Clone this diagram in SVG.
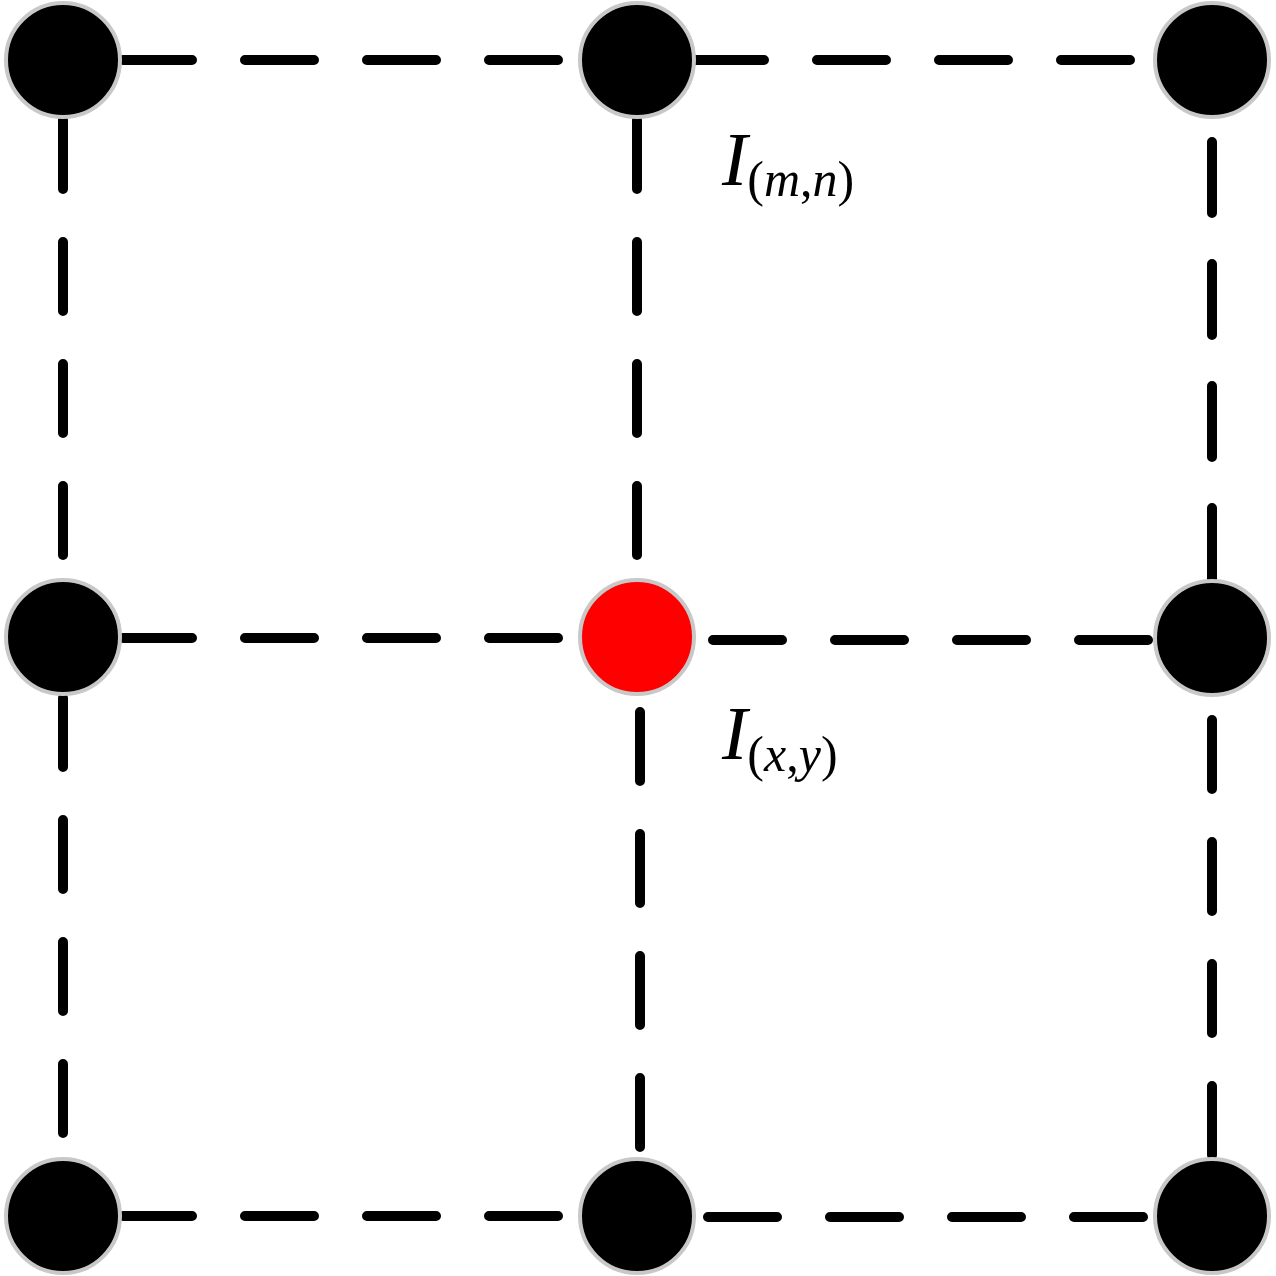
<svg xmlns="http://www.w3.org/2000/svg" width="1276" height="1276" viewBox="0 0 1276 1276">
  <style>
    .edge { stroke: #000; stroke-width: 10; stroke-linecap: round; stroke-dasharray: 69 53; fill: none; }
    .edge2 { stroke-dasharray: 71 51; }
    .node { fill: #000; stroke: #c8c8c8; stroke-width: 4; }
    .target { fill: #ff0000; stroke: #c8c8c8; stroke-width: 4; }
    .lbl { font-family: "Liberation Serif", "Times New Roman", serif; fill: #000; }
    .it { font-style: italic; }
  </style>
  <rect width="1276" height="1276" fill="#fff"/>
  <g id="connectors">
    <line class="edge" x1="123" y1="60" x2="558" y2="60"/>
    <line class="edge" x1="695" y1="60" x2="1135" y2="60"/>
    <line class="edge" x1="123" y1="638" x2="558" y2="638"/>
    <line class="edge" x1="713" y1="640" x2="1150" y2="640"/>
    <line class="edge" x1="123" y1="1216" x2="558" y2="1216"/>
    <line class="edge" x1="708" y1="1217" x2="1145" y2="1217"/>
    <line class="edge" x1="63" y1="120" x2="63" y2="556"/>
    <line class="edge" x1="63" y1="698" x2="63" y2="1135"/>
    <line class="edge" x1="637" y1="120" x2="637" y2="556"/>
    <line class="edge" x1="640" y1="712" x2="640" y2="1150"/>
    <line class="edge edge2" x1="1212" y1="142" x2="1212" y2="580"/>
    <line class="edge" x1="1212" y1="720" x2="1212" y2="1160"/>
  </g>
  <g id="node-0-0"><circle class="node" cx="63" cy="60" r="57"/></g>
  <g id="node-1-0"><circle class="node" cx="637" cy="60" r="57"/></g>
  <g id="node-2-0"><circle class="node" cx="1212" cy="60" r="57"/></g>
  <g id="node-0-1"><circle class="node" cx="63" cy="637" r="57"/></g>
  <g id="node-1-1"><circle class="target" cx="637" cy="637" r="57"/></g>
  <g id="node-2-1"><circle class="node" cx="1212" cy="638" r="57"/></g>
  <g id="node-0-2"><circle class="node" cx="63" cy="1216" r="57"/></g>
  <g id="node-1-2"><circle class="node" cx="637" cy="1216" r="57"/></g>
  <g id="node-2-2"><circle class="node" cx="1212" cy="1216" r="57"/></g>
  <g id="label-mn">
    <text class="lbl" x="722" y="185" font-size="76"><tspan class="it">I</tspan><tspan font-size="50" dy="11">(</tspan><tspan class="it" font-size="50">m</tspan><tspan font-size="50">,</tspan><tspan class="it" font-size="50">n</tspan><tspan font-size="50">)</tspan></text>
  </g>
  <g id="label-xy">
    <text class="lbl" x="722" y="759" font-size="76"><tspan class="it">I</tspan><tspan font-size="50" dy="12">(</tspan><tspan class="it" font-size="50">x</tspan><tspan font-size="50">,</tspan><tspan class="it" font-size="50">y</tspan><tspan font-size="50">)</tspan></text>
  </g>
</svg>
